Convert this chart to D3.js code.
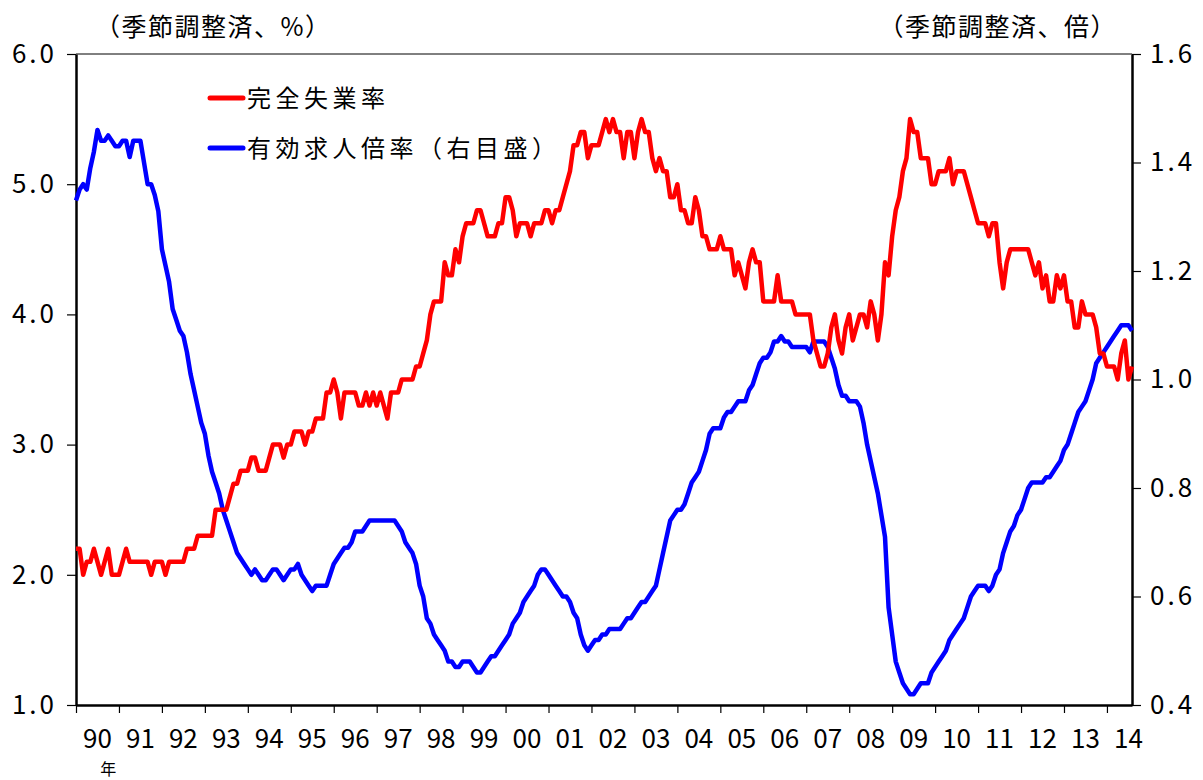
<!DOCTYPE html>
<html>
<head>
<meta charset="utf-8">
<script src="https://cdn.jsdelivr.net/npm/d3@7/dist/d3.min.js"></script>
<style>
  body { margin: 0; background: #fff; }
  text { font-family: "Noto Sans CJK JP", "Noto Sans", sans-serif; fill: #000; }
</style>
</head>
<body>
<svg id="chart" width="1203" height="780"></svg>
<script>
// monthly series, Jan 1990 - Aug 2014 (one row per year)
const startYear = 1990;

const unemployment = [
  2.2,2.2,2.0,2.1,2.1,2.2,2.1,2.0,2.1,2.2,2.0,2.0,
  2.0,2.1,2.2,2.1,2.1,2.1,2.1,2.1,2.1,2.0,2.1,2.1,
  2.1,2.0,2.1,2.1,2.1,2.1,2.1,2.2,2.2,2.2,2.3,2.3,
  2.3,2.3,2.3,2.5,2.5,2.5,2.5,2.6,2.7,2.7,2.8,2.8,
  2.8,2.9,2.9,2.8,2.8,2.8,2.9,3.0,3.0,3.0,2.9,3.0,
  3.0,3.1,3.1,3.1,3.0,3.1,3.1,3.2,3.2,3.2,3.4,3.4,
  3.5,3.4,3.2,3.4,3.4,3.4,3.4,3.3,3.3,3.4,3.3,3.4,
  3.3,3.4,3.3,3.2,3.4,3.4,3.4,3.5,3.5,3.5,3.5,3.6,
  3.6,3.7,3.8,4.0,4.1,4.1,4.1,4.4,4.3,4.3,4.5,4.4,
  4.6,4.7,4.7,4.7,4.8,4.8,4.7,4.6,4.6,4.6,4.7,4.7,
  4.9,4.9,4.8,4.6,4.7,4.7,4.7,4.6,4.7,4.7,4.7,4.8,
  4.8,4.7,4.8,4.8,4.9,5.0,5.1,5.3,5.3,5.4,5.4,5.2,
  5.3,5.3,5.3,5.4,5.5,5.4,5.5,5.4,5.4,5.2,5.4,5.4,
  5.2,5.4,5.5,5.4,5.4,5.2,5.1,5.2,5.1,5.1,4.9,4.9,
  5.0,4.8,4.8,4.7,4.7,4.9,4.8,4.6,4.6,4.5,4.5,4.5,
  4.6,4.5,4.5,4.5,4.3,4.4,4.3,4.2,4.4,4.5,4.4,4.4,
  4.1,4.1,4.1,4.1,4.3,4.1,4.1,4.1,4.1,4.0,4.0,4.0,
  4.0,4.0,3.8,3.7,3.6,3.6,3.7,3.9,4.0,3.8,3.7,3.9,
  4.0,3.8,3.9,4.0,4.0,3.9,4.1,4.0,3.8,4.0,4.4,4.3,
  4.6,4.8,4.9,5.1,5.2,5.5,5.4,5.4,5.2,5.2,5.2,5.0,
  5.0,5.1,5.1,5.1,5.2,5.0,5.1,5.1,5.1,5.0,4.9,4.8,
  4.7,4.7,4.7,4.6,4.7,4.7,4.4,4.2,4.4,4.5,4.5,4.5,
  4.5,4.5,4.5,4.4,4.3,4.4,4.2,4.3,4.1,4.1,4.3,4.2,
  4.3,4.1,4.1,3.9,3.9,4.1,4.0,4.0,4.0,3.9,3.7,3.7,
  3.6,3.6,3.6,3.5,3.7,3.8,3.5,3.6
];

const jobRatio = [
  1.33,1.35,1.36,1.35,1.39,1.42,1.46,1.44,1.44,1.45,1.44,1.43,
  1.43,1.44,1.44,1.41,1.44,1.44,1.44,1.40,1.36,1.36,1.34,1.31,
  1.24,1.21,1.18,1.13,1.11,1.09,1.08,1.05,1.01,0.98,0.95,0.92,
  0.90,0.86,0.83,0.81,0.79,0.76,0.74,0.72,0.70,0.68,0.67,0.66,
  0.65,0.64,0.65,0.64,0.63,0.63,0.64,0.65,0.65,0.64,0.63,0.64,
  0.65,0.65,0.66,0.64,0.63,0.62,0.61,0.62,0.62,0.62,0.62,0.64,
  0.66,0.67,0.68,0.69,0.69,0.70,0.72,0.72,0.72,0.73,0.74,0.74,
  0.74,0.74,0.74,0.74,0.74,0.74,0.73,0.72,0.70,0.69,0.68,0.66,
  0.62,0.60,0.56,0.55,0.53,0.52,0.51,0.50,0.48,0.48,0.47,0.47,
  0.48,0.48,0.48,0.47,0.46,0.46,0.47,0.48,0.49,0.49,0.50,0.51,
  0.52,0.53,0.55,0.56,0.57,0.59,0.60,0.61,0.62,0.64,0.65,0.65,
  0.64,0.63,0.62,0.61,0.60,0.60,0.59,0.57,0.56,0.53,0.51,0.50,
  0.51,0.52,0.52,0.53,0.53,0.54,0.54,0.54,0.54,0.55,0.56,0.56,
  0.57,0.58,0.59,0.59,0.60,0.61,0.62,0.65,0.68,0.71,0.74,0.75,
  0.76,0.76,0.77,0.79,0.81,0.82,0.83,0.85,0.87,0.90,0.91,0.91,
  0.91,0.93,0.94,0.94,0.95,0.96,0.96,0.96,0.98,0.99,1.01,1.03,
  1.04,1.04,1.05,1.07,1.07,1.08,1.07,1.07,1.06,1.06,1.06,1.06,
  1.06,1.05,1.07,1.07,1.07,1.07,1.06,1.04,1.02,0.99,0.97,0.97,
  0.96,0.96,0.96,0.95,0.92,0.88,0.85,0.82,0.79,0.75,0.71,0.58,
  0.53,0.48,0.46,0.44,0.43,0.42,0.42,0.43,0.44,0.44,0.44,0.46,
  0.47,0.48,0.49,0.50,0.52,0.53,0.54,0.55,0.56,0.58,0.60,0.61,
  0.62,0.62,0.62,0.61,0.62,0.64,0.65,0.68,0.70,0.72,0.73,0.75,
  0.76,0.78,0.80,0.81,0.81,0.81,0.81,0.82,0.82,0.83,0.84,0.85,
  0.87,0.88,0.90,0.92,0.94,0.95,0.96,0.98,1.00,1.03,1.04,1.05,
  1.06,1.07,1.08,1.09,1.10,1.10,1.10,1.09
];

const yearLabels = ["90","91","92","93","94","95","96","97","98","99","00","01",
  "02","03","04","05","06","07","08","09","10","11","12","13","14"];
const leftTicks = [1.0, 2.0, 3.0, 4.0, 5.0, 6.0];
const rightTicks = [0.4, 0.6, 0.8, 1.0, 1.2, 1.4, 1.6];
const leftTitle = "（季節調整済、%）";
const rightTitle = "（季節調整済、倍）";
const legendItems = [
  { label: "完全失業率", color: "#ff0000" },
  { label: "有効求人倍率（右目盛）", color: "#0000ff" }
];

const svg = d3.select("#chart");
const plot = { left: 76, right: 1132, top: 54, bottom: 705 };

const x = d3.scaleLinear()
  .domain([0, unemployment.length - 1])
  .range([plot.left, plot.right]);
const yLeft = d3.scaleLinear().domain([1, 6]).range([plot.bottom, plot.top]);
const yRight = d3.scaleLinear().domain([0.4, 1.6]).range([plot.bottom, plot.top]);

// top border of the plot area
svg.append("line")
  .attr("x1", plot.left).attr("x2", plot.right)
  .attr("y1", plot.top).attr("y2", plot.top)
  .attr("stroke", "#000").attr("stroke-width", 1);

// left axis
const leftAxis = svg.append("g")
  .attr("transform", `translate(${plot.left},0)`)
  .call(d3.axisLeft(yLeft).tickValues(leftTicks)
    .tickFormat(d3.format(".1f")).tickSize(9).tickSizeOuter(0).tickPadding(10));

// right axis
const rightAxis = svg.append("g")
  .attr("transform", `translate(${plot.right},0)`)
  .call(d3.axisRight(yRight).tickValues(rightTicks)
    .tickFormat(d3.format(".1f")).tickSize(9).tickSizeOuter(0).tickPadding(9));

// bottom axis, a tick at each January
const years = d3.range(0, unemployment.length, 12);
const bottomAxis = svg.append("g")
  .attr("transform", `translate(0,${plot.bottom})`)
  .call(d3.axisBottom(x).tickValues(years).tickFormat("").tickSize(8).tickSizeOuter(0));

[leftAxis, rightAxis, bottomAxis].forEach((g) => {
  g.select(".domain").attr("stroke", "#000").attr("stroke-width", 2.5);
  g.selectAll(".tick line").attr("stroke", "#000").attr("stroke-width", 1.2);
  g.selectAll(".tick text")
    .style("font-size", "26px")
    .style("letter-spacing", "3px");
});

// year labels centred between ticks
svg.append("g")
  .selectAll("text")
  .data(yearLabels)
  .enter()
  .append("text")
  .attr("x", (d, i) => x(i * 12 + 6))
  .attr("y", 748)
  .attr("text-anchor", "middle")
  .style("font-size", "26px")
  .text((d) => d);

svg.append("text")
  .attr("x", x(9))
  .attr("y", 775)
  .attr("text-anchor", "middle")
  .style("font-size", "16px")
  .text("年");

// axis titles
svg.append("text")
  .attr("x", 95).attr("y", 36)
  .style("font-size", "25px")
  .style("letter-spacing", "1.5px")
  .text(leftTitle);
svg.append("text")
  .attr("x", 1117).attr("y", 36)
  .attr("text-anchor", "end")
  .style("font-size", "25px")
  .style("letter-spacing", "1.5px")
  .text(rightTitle);

// series
const lineLeft = d3.line().x((d, i) => x(i)).y((d) => yLeft(d));
const lineRight = d3.line().x((d, i) => x(i)).y((d) => yRight(d));

svg.append("path")
  .datum(jobRatio)
  .attr("d", lineRight)
  .attr("fill", "none")
  .attr("stroke", "#0000ff")
  .attr("stroke-width", 4.5)
  .attr("stroke-linejoin", "round");

svg.append("path")
  .datum(unemployment)
  .attr("d", lineLeft)
  .attr("fill", "none")
  .attr("stroke", "#ff0000")
  .attr("stroke-width", 4.5)
  .attr("stroke-linejoin", "round");

// legend
const legend = svg.append("g").attr("transform", "translate(210,98)");
const legendRows = legend.selectAll("g")
  .data(legendItems)
  .enter()
  .append("g")
  .attr("transform", (d, i) => `translate(0,${i * 50})`);

legendRows.append("line")
  .attr("x1", 0).attr("x2", 33)
  .attr("y1", 0).attr("y2", 0)
  .attr("stroke", (d) => d.color)
  .attr("stroke-width", 5)
  .attr("stroke-linecap", "round");

legendRows.append("text")
  .attr("x", 37)
  .attr("y", 0)
  .attr("dy", "0.36em")
  .style("font-size", "24px")
  .style("letter-spacing", "4.5px")
  .text((d) => d.label);
</script>
</body>
</html>
